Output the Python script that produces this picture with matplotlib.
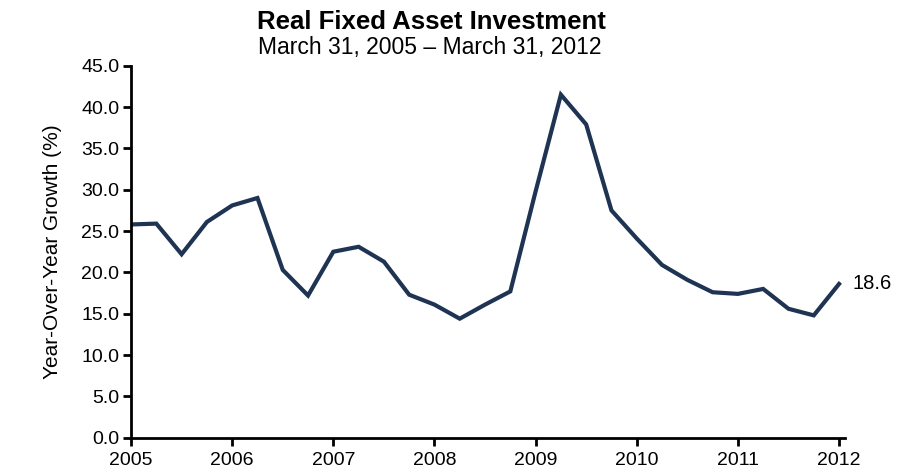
import matplotlib
matplotlib.use("Agg")
import matplotlib.pyplot as plt
import numpy as np

plt.rcParams['font.family'] = ['Liberation Sans', 'DejaVu Sans']

# Quarterly year-over-year growth of real fixed asset investment (%), Q1 2005 - Q1 2012
quarters = np.arange(2005.0, 2012.01, 0.25)
growth = [25.8, 25.9, 22.2, 26.1, 28.1, 29.0, 20.3, 17.2,
          22.5, 23.1, 21.3, 17.3, 16.1, 14.4, 16.1, 17.7,
          29.8, 41.5, 37.9, 27.5, 24.1, 20.9, 19.1, 17.6,
          17.4, 18.0, 15.6, 14.8, 18.6]
year_ticks = list(range(2005, 2013))
y_ticks = np.arange(0, 45.1, 5)

fig = plt.figure(figsize=(9, 4.73), dpi=100)
ax = fig.add_axes([0.1456, 0.0746, 0.7934, 0.7864])

ax.plot(quarters, growth, color='#1f3352', lw=3.0, solid_joinstyle='miter')

ax.set_xlim(2005, 2012.06)
ax.set_ylim(0, 45)
ax.set_xticks(year_ticks)
ax.set_xticklabels([str(y) for y in year_ticks])
ax.set_yticks(y_ticks)
ax.set_yticklabels([f"{v:.1f}" for v in y_ticks])

for s in ['top', 'right']:
    ax.spines[s].set_visible(False)
for s in ['left', 'bottom']:
    ax.spines[s].set_linewidth(2)
    ax.spines[s].set_color('black')
ax.tick_params(axis='both', direction='out', length=5.5, width=2, labelsize=14, color='black')
ax.tick_params(axis='x', pad=5)
ax.tick_params(axis='y', pad=3)

ax.set_ylabel('Year-Over-Year Growth (%)', fontsize=15, labelpad=14)

ax.annotate(f"{growth[-1]:.1f}", xy=(quarters[-1], growth[-1]), xytext=(10, 0),
            textcoords='offset points', va='center', ha='left', fontsize=14.5)

fig.text(0.479, 0.953, 'Real Fixed Asset Investment', ha='center', va='center',
         fontsize=18.5, fontweight='bold')
fig.text(0.477, 0.900, 'March 31, 2005 \u2013 March 31, 2012', ha='center', va='center',
         fontsize=16.5)

fig.savefig('out.png', dpi=100)
